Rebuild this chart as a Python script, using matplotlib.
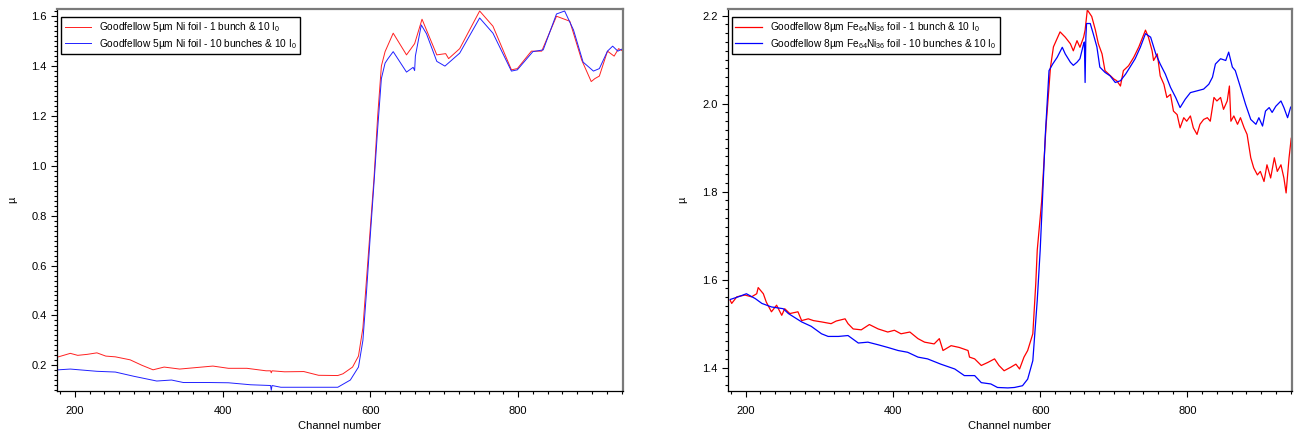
import matplotlib
matplotlib.use('Agg')
import matplotlib.pyplot as plt
from matplotlib.ticker import MultipleLocator

plt.rcParams['font.family'] = ['Liberation Sans', 'DejaVu Sans']
plt.rcParams['font.size'] = 8

# --- Ni foil, 5 um ---
ni_ch_1 = [178, 194, 204, 217, 230, 242, 255, 275, 291, 306, 321, 342, 372, 387, 408,
           433, 459, 465, 466, 467, 484, 510, 530, 556, 563, 576, 584, 590, 595, 600,
           605, 610, 615, 620, 631, 649, 660, 670, 690, 702, 706, 721, 748, 766, 791,
           799, 818, 832, 852, 861, 870, 886, 899, 904, 910, 921, 930, 936, 942]
ni_mu_1 = [0.234, 0.248, 0.240, 0.244, 0.250, 0.237, 0.234, 0.222, 0.200, 0.182, 0.193, 0.185, 0.193, 0.197, 0.188,
           0.188, 0.178, 0.178, 0.170, 0.178, 0.174, 0.175, 0.160, 0.159, 0.166, 0.193, 0.237, 0.350, 0.550, 0.750,
           0.950, 1.200, 1.400, 1.458, 1.532, 1.445, 1.490, 1.588, 1.445, 1.450, 1.430, 1.470, 1.621, 1.560, 1.385,
           1.390, 1.460, 1.460, 1.600, 1.590, 1.580, 1.425, 1.338, 1.350, 1.360, 1.460, 1.440, 1.470, 1.460]

ni_ch_10 = [178, 194, 230, 255, 280, 311, 331, 347, 382, 408, 438, 465, 466, 467, 479,
            510, 556, 563, 573, 584, 590, 595, 600, 605, 610, 615, 620, 624, 631, 649,
            658, 660, 661, 669, 676, 690, 701, 721, 748, 766, 791, 799, 820, 834, 852,
            863, 875, 888, 902, 910, 921, 928, 935, 942]
ni_mu_10 = [0.182, 0.185, 0.176, 0.173, 0.156, 0.137, 0.141, 0.131, 0.131, 0.130, 0.122, 0.119, 0.100, 0.119, 0.112,
            0.112, 0.112, 0.124, 0.141, 0.193, 0.300, 0.500, 0.720, 0.930, 1.150, 1.350, 1.412, 1.430, 1.458, 1.376,
            1.395, 1.382, 1.440, 1.565, 1.530, 1.419, 1.400, 1.452, 1.593, 1.532, 1.380, 1.385, 1.458, 1.465, 1.609,
            1.621, 1.545, 1.416, 1.380, 1.390, 1.460, 1.480, 1.460, 1.470]

# --- Fe64Ni36 foil, 8 um ---
fe_ch_1 = [179, 181, 188, 199, 208, 215, 217, 224, 228, 235, 242, 249, 253, 260, 271,
           276, 285, 292, 303, 316, 323, 335, 339, 346, 357, 368, 380, 393, 402, 411,
           423, 434, 443, 456, 463, 468, 479, 490, 502, 504, 511, 520, 529, 538, 544,
           551, 560, 567, 572, 578, 583, 590, 594, 596, 602, 608, 614, 618, 627, 634,
           641, 645, 650, 654, 659, 661, 664, 670, 675, 679, 684, 688, 693, 700, 704,
           709, 713, 720, 727, 734, 743, 747, 752, 754, 759, 763, 768, 772, 777, 781,
           786, 790, 795, 799, 804, 808, 813, 817, 822, 827, 831, 836, 840, 845, 849,
           854, 857, 859, 863, 868, 872, 877, 881, 886, 890, 895, 899, 904, 908, 913,
           918, 922, 927, 931, 934, 938, 941, 943]
fe_mu_1 = [1.553, 1.546, 1.561, 1.565, 1.561, 1.568, 1.582, 1.568, 1.549, 1.527, 1.542, 1.519, 1.534, 1.523, 1.527,
           1.507, 1.511, 1.507, 1.504, 1.500, 1.506, 1.511, 1.500, 1.488, 1.486, 1.498, 1.488, 1.481, 1.485, 1.477,
           1.481, 1.466, 1.458, 1.454, 1.466, 1.439, 1.450, 1.446, 1.439, 1.424, 1.420, 1.405, 1.412, 1.420, 1.405,
           1.393, 1.401, 1.408, 1.397, 1.424, 1.439, 1.477, 1.591, 1.667, 1.778, 1.950, 2.083, 2.129, 2.163, 2.151,
           2.136, 2.120, 2.143, 2.128, 2.151, 2.167, 2.213, 2.198, 2.167, 2.136, 2.113, 2.075, 2.067, 2.056, 2.052,
           2.040, 2.075, 2.086, 2.105, 2.129, 2.167, 2.151, 2.120, 2.098, 2.113, 2.063, 2.044, 2.014, 2.021, 1.983,
           1.975, 1.945, 1.968, 1.960, 1.972, 1.945, 1.930, 1.953, 1.964, 1.968, 1.960, 2.014, 2.006, 2.014, 1.987,
           2.006, 2.040, 1.960, 1.972, 1.953, 1.968, 1.945, 1.930, 1.877, 1.854, 1.838, 1.846, 1.823, 1.861, 1.831,
           1.877, 1.846, 1.861, 1.831, 1.797, 1.877, 1.922, 1.892]

fe_ch_10 = [179, 190, 201, 213, 222, 235, 251, 258, 276, 289, 303, 312, 326, 339, 353,
            366, 380, 393, 407, 420, 434, 447, 465, 484, 497, 511, 520, 533, 542, 556,
            565, 576, 583, 590, 596, 600, 603, 607, 612, 617, 623, 630, 634, 641, 645,
            650, 654, 659, 660, 661, 662, 663, 668, 672, 677, 681, 688, 695, 702, 709,
            716, 722, 729, 736, 743, 750, 757, 763, 770, 777, 784, 790, 797, 804, 813,
            822, 829, 834, 838, 845, 852, 856, 861, 865, 872, 879, 886, 893, 897, 902,
            906, 911, 915, 920, 927, 931, 936, 940, 943]
fe_mu_10 = [1.555, 1.561, 1.568, 1.557, 1.546, 1.538, 1.534, 1.523, 1.504, 1.494, 1.477, 1.471, 1.471, 1.473, 1.456,
            1.458, 1.452, 1.446, 1.439, 1.435, 1.424, 1.420, 1.408, 1.397, 1.382, 1.382, 1.366, 1.363, 1.355, 1.354,
            1.355, 1.359, 1.374, 1.416, 1.553, 1.667, 1.778, 1.930, 2.075, 2.090, 2.105, 2.128, 2.113, 2.094, 2.087,
            2.094, 2.102, 2.136, 2.140, 2.048, 2.150, 2.182, 2.182, 2.159, 2.129, 2.083, 2.071, 2.063, 2.048, 2.052,
            2.067, 2.083, 2.102, 2.128, 2.159, 2.151, 2.113, 2.090, 2.067, 2.037, 2.014, 1.991, 2.010, 2.025, 2.029,
            2.033, 2.044, 2.060, 2.090, 2.102, 2.098, 2.117, 2.083, 2.075, 2.037, 1.998, 1.964, 1.953, 1.968, 1.949,
            1.983, 1.991, 1.980, 1.994, 2.006, 1.991, 1.968, 1.991, 1.998]

lbl_ni = [r'Goodfellow 5µm Ni foil - 1 bunch & 10 $\mathregular{I_0}$',
          r'Goodfellow 5µm Ni foil - 10 bunches & 10 $\mathregular{I_0}$']
lbl_fe = [r'Goodfellow 8µm Fe$\mathregular{_{64}}$Ni$\mathregular{_{36}}$ foil - 1 bunch & 10 $\mathregular{I_0}$',
          r'Goodfellow 8µm Fe$\mathregular{_{64}}$Ni$\mathregular{_{36}}$ foil - 10 bunches & 10 $\mathregular{I_0}$']

W, H = 1295, 432
fig = plt.figure(figsize=(W / 100, H / 100), dpi=100)


def make_axes(x0, x1, y0, y1):
    ax = fig.add_axes([x0 / W, 1 - y1 / H, (x1 - x0) / W, (y1 - y0) / H])
    for s in ['top', 'right']:
        ax.spines[s].set_color('#7a7a7a')
        ax.spines[s].set_linewidth(1.6)
    for s in ['left', 'bottom']:
        ax.spines[s].set_linewidth(0.9)
    ax.tick_params(which='both', direction='out', top=False, right=False, width=0.8)
    ax.tick_params(which='major', length=4.5, pad=3)
    ax.tick_params(axis='x', which='major', pad=6)
    ax.tick_params(which='minor', length=2.5)
    ax.xaxis.set_major_locator(MultipleLocator(200))
    ax.xaxis.set_minor_locator(MultipleLocator(20))
    ax.yaxis.set_major_locator(MultipleLocator(0.2))
    ax.yaxis.set_minor_locator(MultipleLocator(0.02))
    ax.set_xlim(176, 942)
    ax.set_xlabel('Channel number', labelpad=4)
    return ax


legend_kw = dict(loc='upper left', bbox_to_anchor=(0.007, 0.98), frameon=True, fancybox=False,
                 edgecolor='black', framealpha=1, fontsize=7.3, handlelength=2.6,
                 borderpad=0.35, labelspacing=0.25, borderaxespad=0)

ax1 = make_axes(57, 623, 9, 391)
ax1.plot(ni_ch_1, ni_mu_1, color='#ff2020', lw=0.7, label=lbl_ni[0])
ax1.plot(ni_ch_10, ni_mu_10, color='#2020ff', lw=0.7, label=lbl_ni[1])
ax1.set_ylim(0.097, 1.629)
ax1.legend(**legend_kw)

ax2 = make_axes(728, 1292, 9, 391)
ax2.plot(fe_ch_1, fe_mu_1, color='#ff0000', lw=0.9, label=lbl_fe[0])
ax2.plot(fe_ch_10, fe_mu_10, color='#0000ff', lw=0.9, label=lbl_fe[1])
ax2.set_ylim(1.347, 2.215)
leg2 = ax2.legend(**legend_kw)
leg2.set_bbox_to_anchor((0.007, 0.98))

fig.text(12 / W, 1 - 200 / H, 'µ', rotation=90, ha='center', va='center')
fig.text(682 / W, 1 - 200 / H, 'µ', rotation=90, ha='center', va='center')

fig.savefig('out.png', dpi=100)
